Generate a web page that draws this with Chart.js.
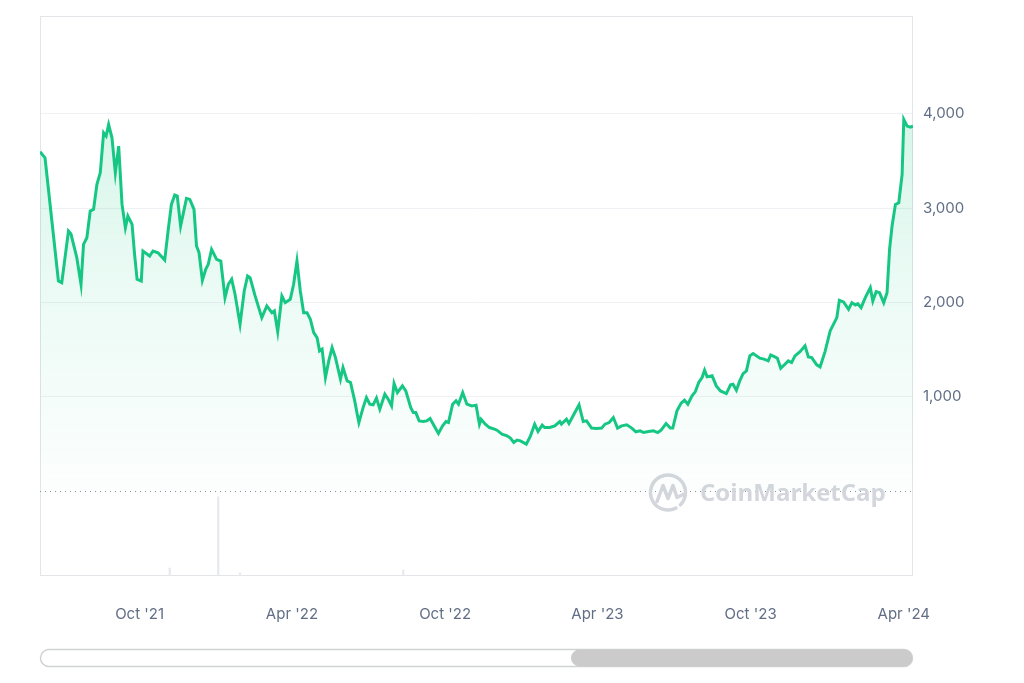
<!DOCTYPE html>
<html>
<head>
<meta charset="utf-8">
<script src="https://cdn.jsdelivr.net/npm/chart.js"></script>
<style>
  html, body { margin: 0; padding: 0; background: #fff; }
  #chart { display: block; }
</style>
</head>
<body>
<canvas id="chart" width="1024" height="683"></canvas>
<script>
// 데이터 (시작일 기준 경과 일수 / 가격)
const startDate = '2021-06-04';
const dayOffsets = [
  0, 6, 22, 26, 34, 37, 44, 49, 52, 56,
  60, 64, 68, 72, 76, 79, 82, 86, 90, 94,
  98, 102, 105, 110, 113, 116, 121, 123, 131, 135,
  141, 149, 153, 157, 161, 164, 168, 175, 179, 184,
  187, 190, 194, 198, 201, 205, 211, 216, 221, 225,
  229, 233, 239, 244, 248, 251, 257, 265, 271, 277,
  280, 284, 289, 293, 299, 303, 307, 311, 315, 319,
  323, 327, 331, 334, 337, 341, 345, 349, 353, 359,
  362, 367, 371, 376, 379, 381, 386, 390, 394, 398,
  402, 406, 412, 416, 420, 423, 427, 433, 437, 443,
  446, 449, 453, 458, 462, 466, 472, 476, 481, 485,
  488, 493, 497, 500, 505, 510, 516, 521, 525, 527,
  532, 537, 543, 546, 552, 558, 562, 566, 570, 574,
  581, 586, 591, 595, 600, 603, 609, 615, 621, 623,
  629, 632, 639, 644, 649, 653, 659, 665, 671, 675,
  680, 685, 690, 695, 701, 707, 712, 717, 721, 727,
  733, 738, 742, 748, 753, 756, 761, 766, 770, 774,
  779, 783, 787, 791, 794, 797, 803, 808, 813, 820,
  825, 828, 832, 836, 840, 844, 848, 852, 860, 865,
  870, 873, 878, 881, 885, 890, 894, 898, 902, 908,
  914, 918, 922, 928, 932, 938, 944, 952, 955, 960,
  966, 970, 974, 977, 981, 986, 992, 995, 999, 1003,
  1008, 1012, 1015, 1018, 1022, 1026, 1030, 1032, 1036, 1040,
  1043
];
const prices = [
  3600, 3535, 2227, 2209, 2757, 2725, 2474, 2192, 2616, 2686,
  2969, 2987, 3252, 3375, 3800, 3765, 3888, 3747, 3375, 3659,
  3040, 2792, 2916, 2828, 2510, 2245, 2227, 2545, 2492, 2545,
  2527, 2449, 2757, 3040, 3139, 3128, 2810, 3104, 3093, 2987,
  2598, 2527, 2234, 2351, 2404, 2563, 2457, 2439, 2050, 2192,
  2245, 2086, 1768, 2121, 2280, 2262, 2068, 1838, 1962, 1891,
  1909, 1690, 2068, 1997, 2033, 2192, 2439, 2121, 1891, 1891,
  1821, 1679, 1626, 1485, 1503, 1202, 1379, 1520, 1414, 1184,
  1308, 1166, 1149, 954, 813, 724, 883, 989, 919, 912,
  983, 866, 1025, 972, 901, 1138, 1042, 1113, 1060, 883,
  830, 830, 742, 735, 742, 767, 671, 608, 689, 735,
  724, 919, 954, 919, 1042, 919, 901, 909, 707, 760,
  707, 671, 654, 643, 601, 583, 559, 512, 538, 530,
  495, 583, 707, 629, 697, 671, 671, 689, 735, 707,
  760, 714, 830, 912, 735, 742, 665, 661, 665, 707,
  724, 777, 665, 689, 700, 665, 626, 636, 618, 629,
  636, 618, 643, 714, 665, 665, 848, 930, 962, 919,
  1007, 1053, 1149, 1202, 1280, 1209, 1220, 1113, 1060, 1032,
  1124, 1131, 1068, 1166, 1244, 1273, 1432, 1456, 1407, 1397,
  1379, 1442, 1421, 1407, 1301, 1343, 1379, 1361, 1432, 1477,
  1538, 1421, 1414, 1336, 1315, 1480, 1697, 1838, 2022, 2004,
  1927, 1997, 1972, 1986, 1944, 2050, 2156, 2015, 2114, 2103,
  1997, 2103, 2563, 2810, 3040, 3057, 3358, 3942, 3871, 3860,
  3871
];

// 거래량 (거의 보이지 않는 막대)
const volumeDays = [155, 213, 239, 434];
const volumes = [8, 80, 3, 6];

// 축 눈금
const priceTicks = [1000, 2000, 3000, 4000];
const monthTickDates = ['2021-10-01', '2022-04-01', '2022-10-01', '2023-04-01', '2023-10-01', '2024-04-01'];
const monthTickLabels = ["Oct '21", "Apr '22", "Oct '22", "Apr '23", "Oct '23", "Apr '24"];

const GREEN = '#16c784';
const AXIS_TEXT = '#616e85';

function dayOf(dateStr) {
  return Math.round((Date.parse(dateStr) - Date.parse(startDate)) / 86400000);
}
const monthTickDays = monthTickDates.map(dayOf);

// 배경 장식: 테두리, 0 기준 점선, 워터마크, 스크롤바
const decorPlugin = {
  id: 'decor',
  beforeDatasetsDraw(chart) {
    const { ctx, chartArea: a, scales } = chart;
    ctx.save();
    // 테두리
    ctx.strokeStyle = '#e3e5e9';
    ctx.lineWidth = 1;
    ctx.strokeRect(a.left + 0.5, a.top + 0.5, a.right - a.left - 1, a.bottom - a.top - 1);
    // 0 기준 점선
    const y0 = Math.round(scales.y.getPixelForValue(0)) + 0.5;
    ctx.strokeStyle = '#8a93a3';
    ctx.setLineDash([1, 4]);
    ctx.beginPath();
    ctx.moveTo(a.left, y0);
    ctx.lineTo(a.right, y0);
    ctx.stroke();
    ctx.setLineDash([]);
    // 워터마크
    const cx = 668, cy = y0 + 1;
    ctx.strokeStyle = '#d3d6dc';
    ctx.lineWidth = 3.5;
    ctx.lineCap = 'round';
    ctx.lineJoin = 'round';
    ctx.beginPath();
    ctx.arc(cx, cy, 17.5, 0.35 * Math.PI, 2.25 * Math.PI);
    ctx.stroke();
    ctx.beginPath();
    ctx.moveTo(cx - 11, cy + 9);
    ctx.lineTo(cx - 5, cy - 7);
    ctx.lineTo(cx, cy + 6);
    ctx.lineTo(cx + 5, cy - 7);
    ctx.lineTo(cx + 9, cy + 5);
    ctx.lineTo(cx + 15, cy + 2);
    ctx.stroke();
    ctx.fillStyle = '#d3d6dc';
    ctx.font = 'bold 24px "Open Sans", Inter, sans-serif';
    ctx.textBaseline = 'middle';
    ctx.fillText('CoinMarketCap', 700, cy + 2);
    ctx.restore();
  },
  afterDraw(chart) {
    const { ctx, chartArea: a } = chart;
    ctx.save();
    const top = 649, h = 17, r = h / 2;
    const left = a.left, right = a.right - 1;
    ctx.fillStyle = '#ffffff';
    ctx.strokeStyle = '#cfd1d4';
    ctx.lineWidth = 1.5;
    ctx.beginPath();
    ctx.roundRect(left + 0.5, top + 0.5, right - left, h, r);
    ctx.fill();
    ctx.stroke();
    ctx.fillStyle = '#cbcbcb';
    ctx.beginPath();
    ctx.roundRect(571, top + 0.5, right - 571 + 0.5, h, r);
    ctx.fill();
    ctx.restore();
  }
};

new Chart(document.getElementById('chart'), {
  type: 'line',
  data: {
    datasets: [
      {
        label: 'Price',
        data: dayOffsets.map((d, i) => ({ x: d, y: prices[i] })),
        borderColor: GREEN,
        borderWidth: 3,
        pointRadius: 0,
        tension: 0,
        fill: 'origin',
        backgroundColor(context) {
          const { chart } = context;
          const a = chart.chartArea;
          if (!a) return 'rgba(22,199,132,0.1)';
          const y0 = chart.scales.y.getPixelForValue(0);
          const g = chart.ctx.createLinearGradient(0, a.top, 0, y0);
          g.addColorStop(0, 'rgba(22,199,132,0.22)');
          g.addColorStop(0.6, 'rgba(22,199,132,0.08)');
          g.addColorStop(1, 'rgba(22,199,132,0.01)');
          return g;
        },
        yAxisID: 'y',
        order: 1
      },
      {
        type: 'bar',
        label: 'Volume',
        data: volumeDays.map((d, i) => ({ x: d, y: volumes[i] })),
        backgroundColor: '#e6e8ec',
        barThickness: 1.5,
        yAxisID: 'yVol',
        order: 2
      }
    ]
  },
  options: {
    responsive: false,
    animation: false,
    layout: { padding: { left: 40, top: 16, right: 0, bottom: 0 } },
    plugins: {
      legend: { display: false },
      tooltip: { enabled: false }
    },
    scales: {
      x: {
        type: 'linear',
        min: 0,
        max: 1043,
        offset: false,
        grid: { display: false, drawTicks: false, offset: false },
        border: { display: false },
        afterBuildTicks(scale) {
          scale.ticks = monthTickDays.map(v => ({ value: v }));
        },
        afterFit(scale) {
          scale.height = 107;
          scale.paddingLeft = 0;
          scale.paddingRight = 0;
        },
        ticks: {
          padding: 29,
          maxRotation: 0,
          autoSkip: false,
          color: AXIS_TEXT,
          font: { family: 'Inter, "Open Sans", sans-serif', size: 15 },
          callback(value) {
            const i = monthTickDays.indexOf(value);
            return i >= 0 ? monthTickLabels[i] : '';
          }
        }
      },
      y: {
        position: 'right',
        min: -905,
        max: 5040,
        grid: { color: '#eff1f4', drawTicks: false },
        border: { display: false },
        afterBuildTicks(scale) {
          scale.ticks = priceTicks.map(v => ({ value: v }));
        },
        afterFit(scale) {
          scale.width = 111;
          scale.paddingTop = 0;
          scale.paddingBottom = 0;
        },
        ticks: {
          padding: 10,
          color: AXIS_TEXT,
          font: { family: 'Inter, "Open Sans", sans-serif', size: 15 },
          callback: v => v.toLocaleString('en-US')
        }
      },
      yVol: {
        display: false,
        min: 0,
        max: 565
      }
    }
  },
  plugins: [decorPlugin]
});
</script>
</body>
</html>
